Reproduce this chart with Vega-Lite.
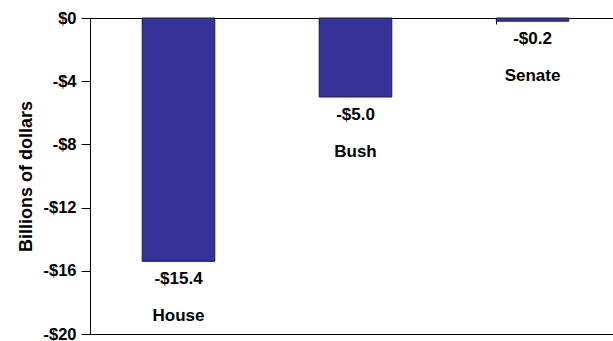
{
  "$schema": "https://vega.github.io/schema/vega-lite/v6.json",
  "width": 531,
  "height": 316,
  "padding": {"left": 17, "top": 10, "right": 0, "bottom": 8},
  "background": "white",
  "config": {
    "font": "Liberation Sans",
    "view": {"stroke": "black", "strokeWidth": 1}
  },
  "data": {
    "values": [
      {"branch": "House", "value": -15.4},
      {"branch": "Bush", "value": -5.0},
      {"branch": "Senate", "value": -0.2}
    ]
  },
  "transform": [
    {"calculate": "'-$' + format(-datum.value, '.1f')", "as": "label"}
  ],
  "encoding": {
    "x": {
      "field": "branch",
      "type": "nominal",
      "sort": null,
      "scale": {"paddingInner": 0.59, "paddingOuter": 0.295},
      "axis": {
        "orient": "top",
        "title": null,
        "labels": false,
        "bandPosition": 0,
        "tickSize": -6,
        "tickColor": "black",
        "domainColor": "black"
      }
    },
    "y": {
      "field": "value",
      "type": "quantitative",
      "scale": {"domain": [-20, 0], "nice": false},
      "axis": {
        "values": [0, -4, -8, -12, -16, -20],
        "labelExpr": "datum.value == 0 ? '$0' : '-$' + (-datum.value)",
        "title": "Billions of dollars",
        "titleFontSize": 18,
        "titleFontWeight": "bold",
        "titleColor": "black",
        "titlePadding": 7,
        "labelFontSize": 16.5,
        "labelFontWeight": "bold",
        "labelColor": "black",
        "labelPadding": 5,
        "tickSize": 9,
        "tickColor": "black",
        "domainColor": "black",
        "grid": false
      }
    }
  },
  "layer": [
    {
      "mark": {"type": "bar", "color": "#333399", "stroke": "#1a1a4d", "strokeWidth": 1}
    },
    {
      "mark": {"type": "text", "dy": 18, "baseline": "middle", "fontSize": 17, "fontWeight": "bold", "color": "black"},
      "encoding": {"text": {"field": "label"}}
    },
    {
      "mark": {"type": "text", "dy": 55, "baseline": "middle", "fontSize": 17, "fontWeight": "bold", "color": "black"},
      "encoding": {"text": {"field": "branch"}}
    }
  ]
}
